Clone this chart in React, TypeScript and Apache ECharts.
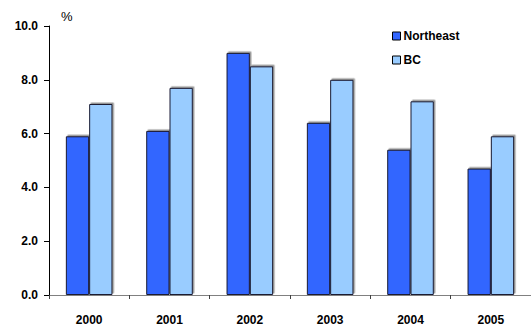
import React, { useEffect, useRef } from "react";
import * as echarts from "echarts";

const categories = ["2000", "2001", "2002", "2003", "2004", "2005"];
const northeast = [5.9, 6.1, 9.0, 6.4, 5.4, 4.7];
const bc = [7.1, 7.7, 8.5, 8.0, 7.2, 5.9];
const yTicks = { min: 0, max: 10, interval: 2 };

export default function App() {
  const ref = useRef<HTMLDivElement>(null);
  useEffect(() => {
    if (!ref.current) return;
    const chart = echarts.init(ref.current, null, { renderer: "svg" });
    const font = "'Liberation Sans', Arial, sans-serif";
    const barStyle = (color: string) => ({
      color,
      borderColor: "#1a1a33",
      borderWidth: 1,
      shadowColor: "rgba(80,80,80,0.6)",
      shadowBlur: 0,
      shadowOffsetX: 1.5,
      shadowOffsetY: -1.5,
    });
    chart.setOption({
      animation: false,
      backgroundColor: "#ffffff",
      textStyle: { fontFamily: font },
      grid: { left: 49, top: 26, bottom: 34, width: 486 },
      legend: {
        orient: "vertical",
        left: 387,
        top: 25,
        itemWidth: 8,
        itemHeight: 8,
        itemGap: 12,
        icon: "rect",
        data: [
          { name: "Northeast", itemStyle: { borderColor: "#000", borderWidth: 1 } },
          { name: "BC", itemStyle: { borderColor: "#000", borderWidth: 1 } },
        ],
        textStyle: { fontSize: 12, fontWeight: "bold", color: "#000", fontFamily: font, padding: [0, 0, 0, -2] },
      },
      graphic: [
        {
          type: "text",
          left: 61,
          top: 10,
          style: { text: "%", fontSize: 13, fill: "#000", fontFamily: font },
        },
      ],
      xAxis: {
        type: "category",
        data: categories,
        axisLine: { lineStyle: { color: "#808080", width: 1 } },
        axisTick: { show: true, interval: 0, length: 4, lineStyle: { color: "#404040" } },
        axisLabel: { margin: 19, fontSize: 12, fontWeight: "bold", color: "#000", fontFamily: font },
      },
      yAxis: {
        type: "value",
        min: yTicks.min,
        max: yTicks.max,
        interval: yTicks.interval,
        splitLine: { show: false },
        axisLine: { show: true, lineStyle: { color: "#000", width: 1 } },
        axisTick: { show: true, length: 5, lineStyle: { color: "#000" } },
        axisLabel: {
          margin: 11,
          fontSize: 12,
          fontWeight: "bold",
          color: "#000",
          fontFamily: font,
          formatter: (v: number) => v.toFixed(1),
        },
      },
      series: [
        {
          name: "Northeast",
          type: "bar",
          data: northeast,
          barWidth: "29%",
          barGap: "0%",
          itemStyle: barStyle("#3366ff"),
        },
        {
          name: "BC",
          type: "bar",
          data: bc,
          barWidth: "29%",
          barGap: "0%",
          itemStyle: barStyle("#99ccff"),
        },
      ],
    });
    return () => chart.dispose();
  }, []);
  return <div ref={ref} style={{ width: 531, height: 329, position: "absolute", left: 0, top: 0 }} />;
}
